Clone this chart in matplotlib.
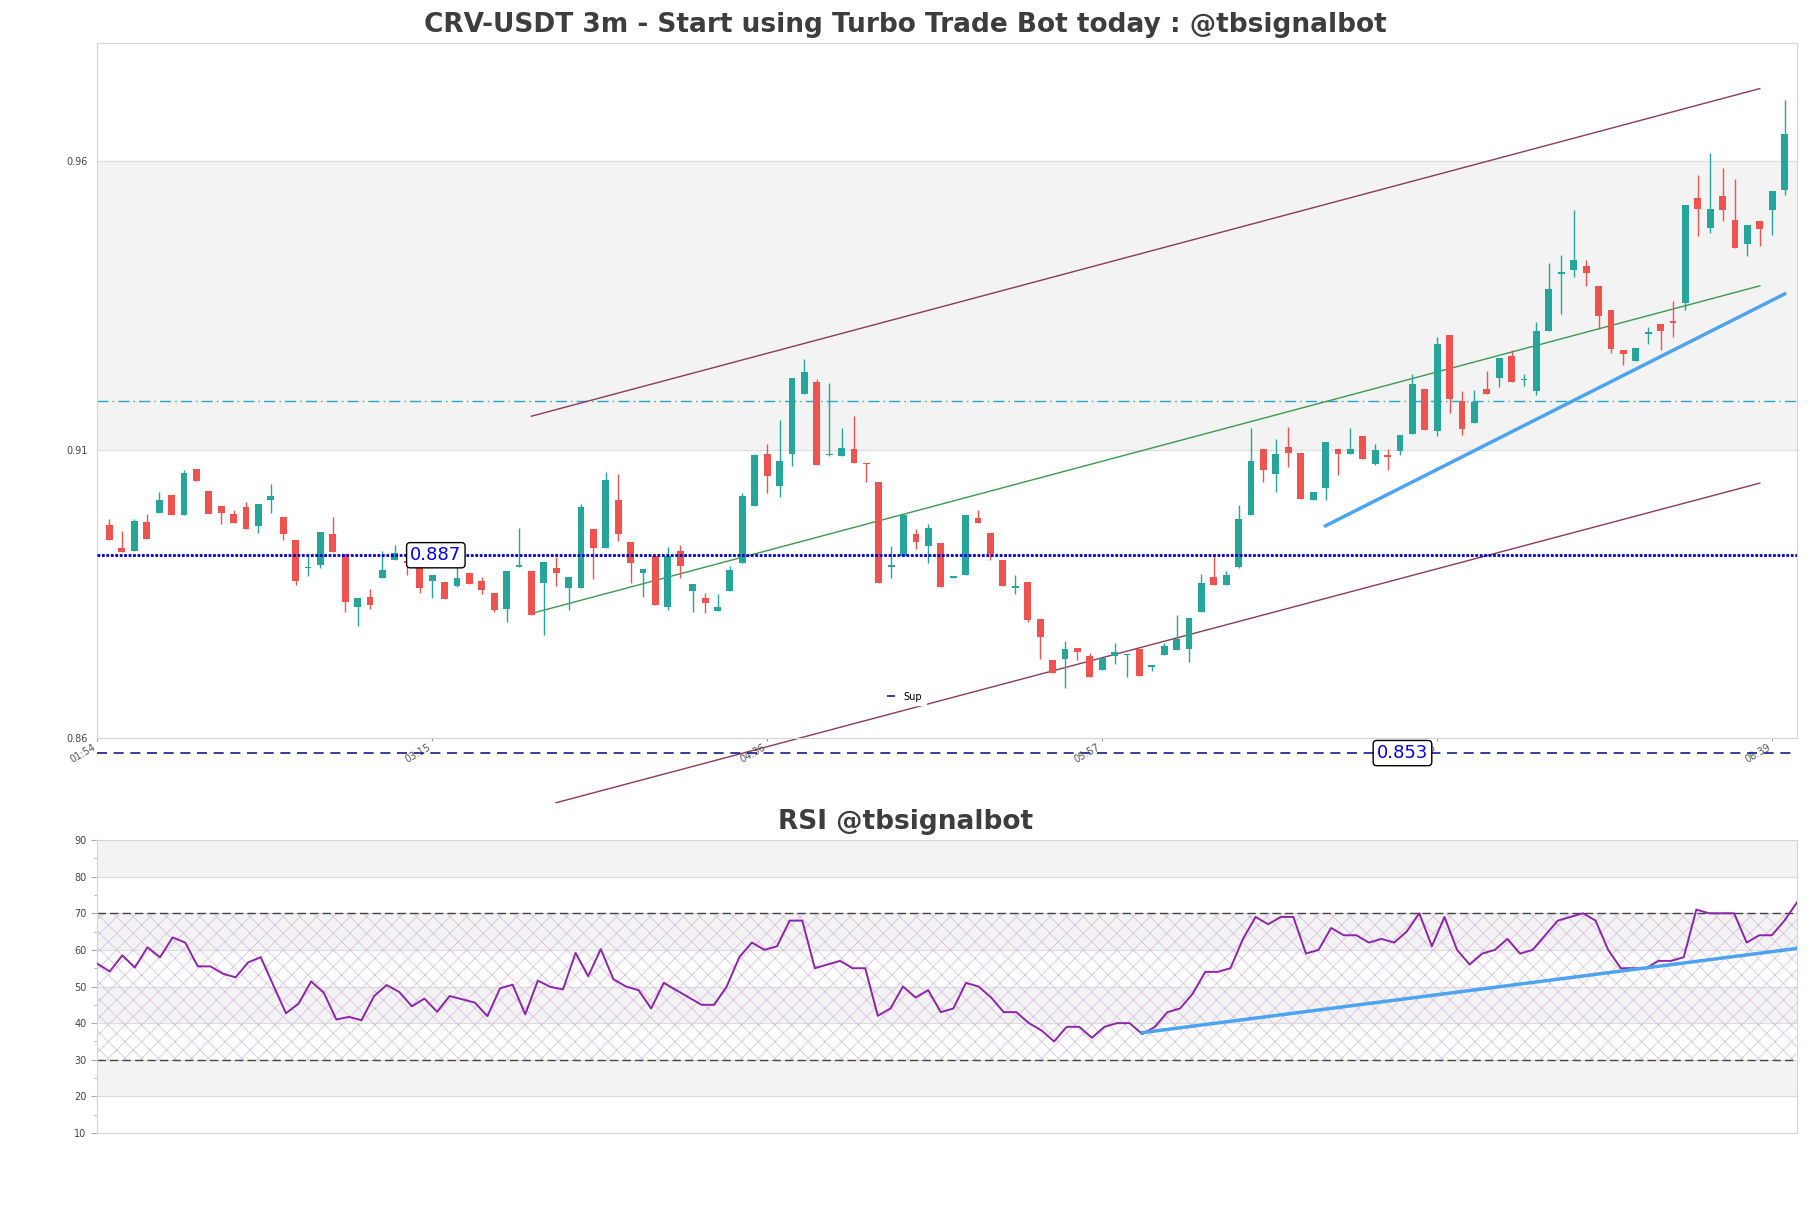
import matplotlib
matplotlib.use('agg')
import matplotlib.pyplot as plt
import numpy as np

plt.rcParams['hatch.linewidth'] = 0.5

# candles (3m)
opens = [0.8970, 0.8930, 0.8924, 0.8974, 0.8990, 0.9021, 0.8987, 0.9066, 0.9028, 0.9002,
         0.8989, 0.9000, 0.8967, 0.9013, 0.8983, 0.8943, 0.8894, 0.8900, 0.8953, 0.8919,
         0.8827, 0.8844, 0.8877, 0.8909, 0.8907, 0.8898, 0.8873, 0.8870, 0.8863, 0.8887,
         0.8872, 0.8852, 0.8824, 0.8897, 0.8889, 0.8869, 0.8895, 0.8861, 0.8860, 0.8963,
         0.8929, 0.9012, 0.8940, 0.8886, 0.8916, 0.8827, 0.8924, 0.8855, 0.8843, 0.8820,
         0.8855, 0.8903, 0.9002, 0.9093, 0.9037, 0.9092, 0.9196, 0.9217, 0.9090, 0.9089,
         0.9101, 0.9077, 0.9044, 0.8897, 0.8916, 0.8953, 0.8933, 0.8939, 0.8878, 0.8883,
         0.8981, 0.8955, 0.8908, 0.8861, 0.8870, 0.8807, 0.8736, 0.8737, 0.8757, 0.8742,
         0.8718, 0.8742, 0.8744, 0.8755, 0.8724, 0.8744, 0.8753, 0.8755, 0.8818, 0.8880,
         0.8866, 0.8896, 0.8987, 0.9102, 0.9058, 0.9105, 0.9094, 0.9013, 0.9033, 0.9101,
         0.9092, 0.9124, 0.9076, 0.9091, 0.9098, 0.9127, 0.9205, 0.9133, 0.9298, 0.9184,
         0.9147, 0.9205, 0.9225, 0.9262, 0.9220, 0.9202, 0.9305, 0.9405, 0.9411, 0.9418,
         0.9384, 0.9342, 0.9273, 0.9253, 0.9301, 0.9318, 0.9323, 0.9354, 0.9537, 0.9485,
         0.9539, 0.9499, 0.9457, 0.9497, 0.9515, 0.9550]
highs = [0.8979, 0.8959, 0.8979, 0.8989, 0.9026, 0.9021, 0.9064, 0.9066, 0.9028, 0.9002,
         0.8995, 0.9009, 0.9005, 0.9041, 0.8983, 0.8943, 0.8915, 0.8957, 0.8983, 0.8919,
         0.8842, 0.8858, 0.8925, 0.8935, 0.8907, 0.8898, 0.8883, 0.8870, 0.8902, 0.8887,
         0.8879, 0.8852, 0.8889, 0.8965, 0.8889, 0.8906, 0.8914, 0.8880, 0.9005, 0.8963,
         0.9062, 0.9057, 0.8940, 0.8893, 0.8916, 0.8931, 0.8935, 0.8867, 0.8852, 0.8849,
         0.8898, 0.9025, 0.9093, 0.9110, 0.9151, 0.9225, 0.9258, 0.9222, 0.9215, 0.9138,
         0.9159, 0.9077, 0.9044, 0.8933, 0.8986, 0.8962, 0.8972, 0.8939, 0.8880, 0.8986,
         0.8995, 0.8955, 0.8908, 0.8882, 0.8870, 0.8807, 0.8736, 0.8769, 0.8757, 0.8747,
         0.8738, 0.8764, 0.8746, 0.8755, 0.8725, 0.8765, 0.8814, 0.8809, 0.8884, 0.8920,
         0.8889, 0.9004, 0.9138, 0.9102, 0.9119, 0.9140, 0.9094, 0.9027, 0.9114, 0.9101,
         0.9138, 0.9124, 0.9110, 0.9101, 0.9125, 0.9231, 0.9205, 0.9295, 0.9298, 0.9201,
         0.9203, 0.9237, 0.9259, 0.9273, 0.9231, 0.9321, 0.9423, 0.9438, 0.9516, 0.9429,
         0.9384, 0.9342, 0.9273, 0.9277, 0.9312, 0.9318, 0.9358, 0.9525, 0.9576, 0.9614,
         0.9588, 0.9569, 0.9490, 0.9497, 0.9549, 0.9707]
lows = [0.8943, 0.8922, 0.8924, 0.8945, 0.8990, 0.8987, 0.8987, 0.9046, 0.8988, 0.8971,
        0.8973, 0.8962, 0.8955, 0.8990, 0.8943, 0.8866, 0.8881, 0.8895, 0.8922, 0.8818,
        0.8794, 0.8823, 0.8877, 0.8909, 0.8882, 0.8851, 0.8843, 0.8841, 0.8862, 0.8867,
        0.8849, 0.8819, 0.8801, 0.8897, 0.8814, 0.8778, 0.8863, 0.8822, 0.8860, 0.8876,
        0.8929, 0.8941, 0.8869, 0.8844, 0.8831, 0.8822, 0.8878, 0.8818, 0.8817, 0.8820,
        0.8855, 0.8903, 0.9002, 0.9025, 0.9018, 0.9072, 0.9196, 0.9073, 0.9089, 0.9089,
        0.9077, 0.9044, 0.8869, 0.8878, 0.8916, 0.8928, 0.8904, 0.8862, 0.8878, 0.8883,
        0.8973, 0.8908, 0.8864, 0.8850, 0.8801, 0.8737, 0.8713, 0.8687, 0.8736, 0.8706,
        0.8718, 0.8729, 0.8706, 0.8707, 0.8716, 0.8744, 0.8753, 0.8732, 0.8818, 0.8866,
        0.8866, 0.8894, 0.8987, 0.9044, 0.9026, 0.9070, 0.9014, 0.9013, 0.9013, 0.9056,
        0.9092, 0.9084, 0.9074, 0.9065, 0.9091, 0.9127, 0.9134, 0.9124, 0.9163, 0.9126,
        0.9147, 0.9196, 0.9209, 0.9217, 0.9211, 0.9194, 0.9305, 0.9335, 0.9399, 0.9383,
        0.9309, 0.9267, 0.9247, 0.9253, 0.9283, 0.9273, 0.9296, 0.9342, 0.9471, 0.9475,
        0.9497, 0.9449, 0.9436, 0.9453, 0.9472, 0.9542]
closes = [0.8943, 0.8922, 0.8976, 0.8945, 0.9012, 0.8987, 0.9059, 0.9046, 0.8988, 0.8990,
          0.8973, 0.8962, 0.9005, 0.9020, 0.8954, 0.8872, 0.8895, 0.8957, 0.8922, 0.8836,
          0.8842, 0.8830, 0.8892, 0.8921, 0.8903, 0.8860, 0.8883, 0.8841, 0.8878, 0.8867,
          0.8856, 0.8822, 0.8889, 0.8899, 0.8814, 0.8906, 0.8886, 0.8880, 0.9000, 0.8929,
          0.9048, 0.8954, 0.8903, 0.8893, 0.8831, 0.8916, 0.8899, 0.8867, 0.8834, 0.8827,
          0.8891, 0.9019, 0.9090, 0.9054, 0.9080, 0.9225, 0.9234, 0.9073, 0.9091, 0.9103,
          0.9077, 0.9075, 0.8869, 0.8898, 0.8986, 0.8940, 0.8965, 0.8862, 0.8880, 0.8986,
          0.8973, 0.8920, 0.8864, 0.8862, 0.8804, 0.8775, 0.8713, 0.8754, 0.8749, 0.8706,
          0.8738, 0.8750, 0.8746, 0.8707, 0.8725, 0.8759, 0.8772, 0.8809, 0.8868, 0.8866,
          0.8882, 0.8980, 0.9081, 0.9064, 0.9093, 0.9094, 0.9014, 0.9027, 0.9114, 0.9092,
          0.9101, 0.9084, 0.9099, 0.9087, 0.9125, 0.9214, 0.9134, 0.9284, 0.9188, 0.9136,
          0.9182, 0.9196, 0.9259, 0.9217, 0.9222, 0.9306, 0.9379, 0.9408, 0.9429, 0.9406,
          0.9331, 0.9275, 0.9265, 0.9277, 0.9302, 0.9305, 0.9320, 0.9525, 0.9517, 0.9518,
          0.9515, 0.9449, 0.9490, 0.9483, 0.9549, 0.9648]

rsi = [56.3, 54.1, 58.5, 55.2, 60.7, 58.0, 63.4, 62.0, 55.5, 55.5,
       53.5, 52.5, 56.6, 58.0, 50.3, 42.7, 45.3, 51.4, 48.3, 41.0,
       41.7, 40.8, 47.4, 50.4, 48.5, 44.6, 46.7, 43.1, 47.4, 46.5,
       45.6, 41.9, 49.5, 50.5, 42.4, 51.6, 49.9, 49.2, 59.2, 52.8,
       60.2, 52, 50, 49, 44, 51, 49, 47, 45, 45,
       50, 58, 62, 60, 61, 68, 68, 55, 56, 57,
       55, 55, 42, 44, 50, 47, 49, 43, 44, 51,
       50, 47, 43, 43, 40, 38, 35, 39, 39, 36,
       39, 40, 40, 37, 39, 43, 44, 48, 54, 54,
       55, 63, 69, 67, 69, 69, 59, 60, 66, 64,
       64, 62, 63, 62, 65, 70, 61, 69, 60, 56,
       59, 60, 63, 59, 60, 64, 68, 69, 70, 68,
       60, 55, 55, 55, 57, 57, 58, 71, 70, 70,
       70, 62, 64, 64, 68, 73]

tick_pos = [-1, 26, 53, 80, 107, 134]
tick_labels = ['01:54', '03:15', '04:36', '05:57', '07:18', '08:39']

# levels and trend lines
sup_level = 0.8917
sup_label = '0.887'
low_level = 0.8574
low_label = '0.853'
res_level = 0.9184
chan_up_x = [34, 133]
chan_up_y = [0.9158, 0.9726]
chan_dn_x = [36, 133]
chan_dn_y = [0.8488, 0.9042]
chan_mid_x = [34, 133]
chan_mid_y = [0.8816, 0.9384]
trend_x = [98, 135]
trend_y = [0.8968, 0.9370]
rsi_trend_x = [83, 135]
rsi_trend_y = [37.4, 60.4]

up_col = '#26a69a'
dn_col = '#ef5350'
band_col = '#f3f3f3'
spine_col = '#d5d5d5'
title_col = '#3d3d3d'

fig = plt.figure(figsize=(18.11, 12.08), dpi=100)
ax = fig.add_axes([0.0536, 0.389, 0.9387, 0.5754])
ax2 = fig.add_axes([0.0536, 0.0621, 0.9387, 0.2425])

# ---- price panel
ax.axhspan(0.91, 0.96, color=band_col, zorder=0)
for y in [0.86, 0.91, 0.96]:
    ax.axhline(y, color='#dddddd', lw=0.8, zorder=0.5)

x = np.arange(len(opens))
o = np.array(opens); h = np.array(highs); l = np.array(lows); c = np.array(closes)
cols = np.where(c >= o, up_col, dn_col)
ax.vlines(x, l, h, colors=cols, lw=1.0, zorder=2)
body = np.maximum(np.abs(c - o), 0.00025)
ax.bar(x, body, bottom=np.minimum(o, c), width=0.55, color=cols, zorder=3)

ax.axhline(sup_level, color='#0000cc', lw=2, ls=(0, (1, 0.6)), zorder=4)
ax.axhline(res_level, color='#2aa5c4', lw=1, ls=(0, (8, 3, 1, 3)), zorder=1)
ax.plot([-1, 136], [low_level, low_level], color='#1a1a8a', lw=1.2, ls=(0, (6, 4)),
        clip_on=False, zorder=4, label='Sup')

ax.plot(chan_up_x, chan_up_y, color='#8c3b52', lw=1, zorder=1)
ax.plot(chan_dn_x, chan_dn_y, color='#8c3b52', lw=1, zorder=1, clip_on=False)
ax.plot(chan_mid_x, chan_mid_y, color='#3a9a50', lw=1, zorder=1)
ax.plot(trend_x, trend_y, color='#4da3f0', lw=2.5, zorder=5)

box = dict(boxstyle='round,pad=0.2', fc='white', ec='black', lw=1)
ax.text(26.3, sup_level, sup_label, color='#0000ee', fontsize=13, ha='center', va='center',
        bbox=box, zorder=6)
ax.text(104.2, low_level, low_label, color='#0000ee', fontsize=13, ha='center', va='center',
        bbox=box, zorder=6, clip_on=False)

ax.set_xlim(-1, 136)
ax.set_ylim(0.86, 0.9805)
ax.set_yticks([0.86, 0.91, 0.96])
ax.set_yticklabels(['0.86', '0.91', '0.96'])
ax.set_xticks(tick_pos)
ax.set_xticklabels(tick_labels, rotation=30, ha='right')
ax.tick_params(axis='y', length=0, labelsize=7, labelcolor='#444444', pad=7)
ax.tick_params(axis='x', length=2, labelsize=7, labelcolor='#555555', color='#999999', pad=1)
for s in ax.spines.values():
    s.set_color(spine_col)

leg = ax.legend(loc='lower center', bbox_to_anchor=(0.475, 0.04), fontsize=7, frameon=True,
                handlelength=0.8, framealpha=1)
leg.get_frame().set_edgecolor('white')

fig.text(0.5, 0.979, 'CRV-USDT 3m - Start using Turbo Trade Bot today : @tbsignalbot',
         fontsize=19, fontweight='bold', color=title_col, ha='center', va='center')

# ---- RSI panel
for lo, hi in [(20, 30), (40, 50), (60, 70), (80, 90)]:
    ax2.axhspan(lo, hi, color=band_col, zorder=0)
for y in range(10, 91, 10):
    ax2.axhline(y, color='#dddddd', lw=0.8, zorder=0.5)
xr = np.arange(len(rsi))
ax2.fill_between([0, len(rsi) - 1], 30, 70, facecolor='none', hatch='xx',
                 edgecolor='#d4b8e0', linewidth=0, zorder=1)
ax2.axhline(70, color='#444444', lw=1, ls=(0, (6, 3)), zorder=2)
ax2.axhline(30, color='#444444', lw=1, ls=(0, (6, 3)), zorder=2)
ax2.plot(xr, rsi, color='#8e24aa', lw=1.4, zorder=3)
ax2.plot(rsi_trend_x, rsi_trend_y, color='#4da3f0', lw=2.5, zorder=4)

ax2.set_xlim(0, len(rsi) - 1)
ax2.set_ylim(10, 90)
ax2.set_yticks(range(10, 91, 10))
ax2.set_yticks(range(15, 90, 10), minor=True)
ax2.set_xticks([])
ax2.tick_params(axis='y', which='major', length=4, labelsize=7, labelcolor='#444444',
                color='#aaaaaa')
ax2.tick_params(axis='y', which='minor', length=2, color='#aaaaaa')
for s in ax2.spines.values():
    s.set_color(spine_col)

fig.text(0.5, 0.3195, 'RSI @tbsignalbot', fontsize=19, fontweight='bold', color=title_col,
         ha='center', va='center')

fig.savefig('out.png', dpi=100)
